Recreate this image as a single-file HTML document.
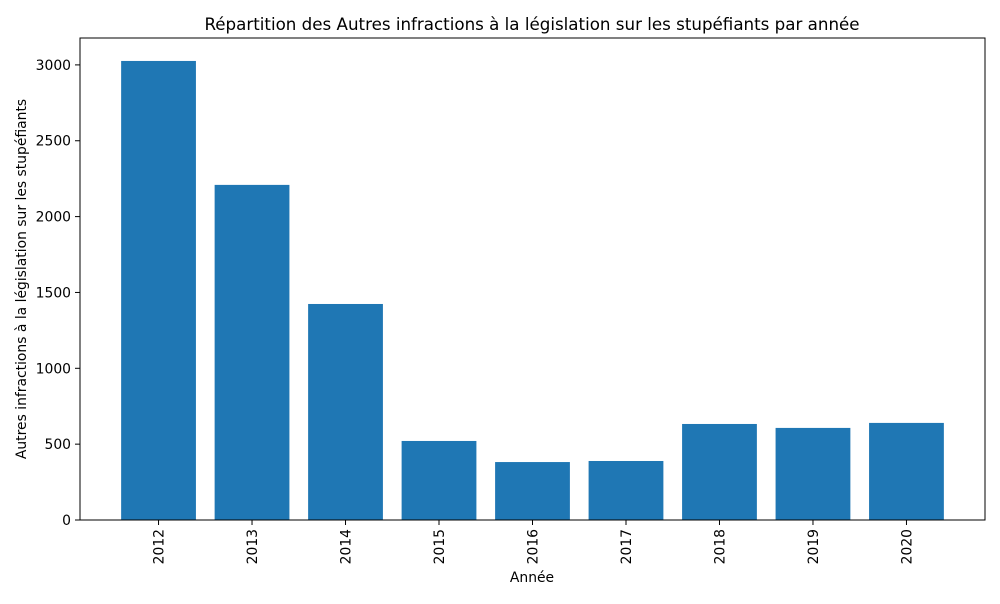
<!DOCTYPE html>
<html><head><meta charset="utf-8"><style>
body{margin:0;background:#fff;font-family:"DejaVu Sans","Liberation Sans",sans-serif;}
</style></head><body>
<svg id="chart" width="1000" height="600" xmlns="http://www.w3.org/2000/svg" font-family="DejaVu Sans, Liberation Sans, sans-serif">
<text x="532" y="30" text-anchor="middle" font-size="16.7">Répartition des Autres infractions à la législation sur les stupéfiants par année</text>
<g id="bars"></g><g id="xt"></g><g id="yt"></g>
<rect x="80" y="38" width="905" height="482" fill="none" stroke="#000" stroke-width="1"/>
<text x="532" y="582" text-anchor="middle" font-size="13.9">Année</text>
<text transform="translate(26,279) rotate(-90)" text-anchor="middle" font-size="13.9">Autres infractions à la législation sur les stupéfiants</text>
</svg>
<script>
const categories=["2012","2013","2014","2015","2016","2017","2018","2019","2020"];
const values=[3026,2209,1424,521,382,389,633,607,640];
const yTicks=[0,500,1000,1500,2000,2500,3000];
const L=80,R=985,T=38,B=520;
const xmin=-0.84,xmax=categories.length-1+0.84;
const ymax=Math.max(...values)*1.05;
const xs=i=>L+(i-xmin)/(xmax-xmin)*(R-L);
const ys=v=>B-v/ymax*(B-T);
const NS="http://www.w3.org/2000/svg";
const mk=(t,a,p)=>{const e=document.createElementNS(NS,t);for(const k in a)e.setAttribute(k,a[k]);p.appendChild(e);return e;};
const bars=document.getElementById('bars'),xt=document.getElementById('xt'),yt=document.getElementById('yt');
categories.forEach((c,i)=>{
 const r=mk('rect',{x:xs(i-0.4),y:ys(values[i]),width:xs(i+0.4)-xs(i-0.4),height:B-ys(values[i]),fill:'#1f77b4'},bars);
 
 
 const x=xs(i);
 const tk=mk('line',{x1:x,x2:x,y1:B,y2:B+5,stroke:'#000'},xt);
 
 
 const t=mk('text',{transform:`translate(${x+5},${B+9}) rotate(-90)`,'text-anchor':'end','font-size':'13.9'},xt);
 t.textContent=c;
 
 
});
yTicks.forEach(v=>{
 const y=ys(v);
 const tk=mk('line',{x1:L-5,x2:L,y1:y,y2:y,stroke:'#000'},yt);
 
 
 const t=mk('text',{x:L-9,y:y+5,'text-anchor':'end','font-size':'13.9'},yt);
 t.textContent=v;
 
 
});
</script>
</body></html>
